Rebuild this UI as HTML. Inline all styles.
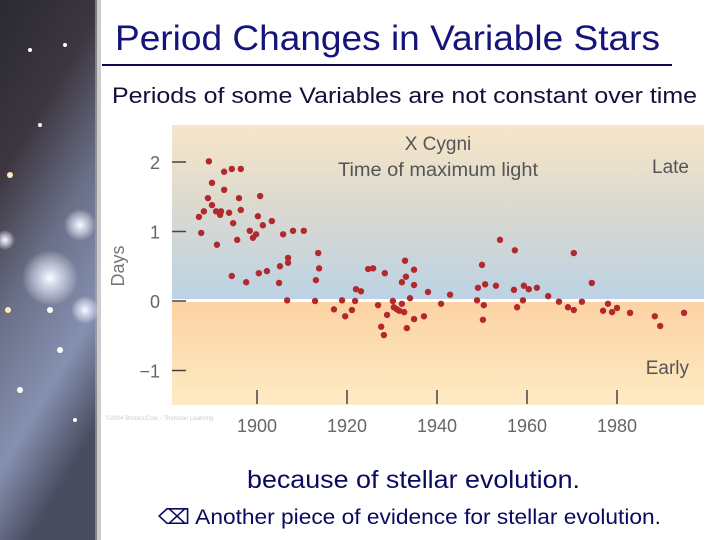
<!DOCTYPE html>
<html><head><meta charset="utf-8"><style>
html,body{margin:0;padding:0;width:720px;height:540px;overflow:hidden;background:#fff;}
svg{display:block;font-family:"Liberation Sans",sans-serif;}
</style></head><body>
<svg width="720" height="540" viewBox="0 0 720 540">
<defs>
<linearGradient id="neb" x1="0" y1="0" x2="0.3" y2="1">
<stop offset="0" stop-color="#2a2a30"/><stop offset="0.3" stop-color="#3d3640"/><stop offset="0.55" stop-color="#6a7088"/><stop offset="0.8" stop-color="#8590b0"/><stop offset="1" stop-color="#4a4c60"/>
</linearGradient>
<linearGradient id="top" x1="0" y1="0" x2="0" y2="1">
<stop offset="0" stop-color="#f7e6c8"/><stop offset="0.45" stop-color="#dcd9cf"/><stop offset="1" stop-color="#bcd2e4"/>
</linearGradient>
<linearGradient id="bot" x1="0" y1="0" x2="0" y2="1">
<stop offset="0" stop-color="#fcd2a2"/><stop offset="1" stop-color="#fdebc4"/>
</linearGradient>
<radialGradient id="glow"><stop offset="0" stop-color="#fff"/><stop offset="0.4" stop-color="#e8ecff" stop-opacity="0.7"/><stop offset="1" stop-color="#fff" stop-opacity="0"/></radialGradient>
</defs>
<g>
<rect x="0" y="0" width="97" height="540" fill="url(#neb)"/>
<rect x="95" y="0" width="6" height="540" fill="#aaa" opacity="0.6"/>
<circle cx="50" cy="278" r="28" fill="url(#glow)"/>
<circle cx="80" cy="225" r="16" fill="url(#glow)"/>
<circle cx="85" cy="310" r="14" fill="url(#glow)"/>
<circle cx="5" cy="240" r="10" fill="url(#glow)"/>
<circle cx="30" cy="50" r="2" fill="#fff"/><circle cx="65" cy="45" r="2" fill="#fff"/><circle cx="40" cy="125" r="2" fill="#fff"/>
<circle cx="10" cy="175" r="3" fill="#ffe8c0"/><circle cx="60" cy="350" r="3" fill="#fff"/><circle cx="20" cy="390" r="3" fill="#fff"/>
<circle cx="75" cy="420" r="2" fill="#fff"/><circle cx="50" cy="310" r="3" fill="#fff"/><circle cx="8" cy="310" r="3" fill="#ffe8c0"/>
</g>
<text x="115" y="50" font-size="35" fill="#14147a" textLength="545" lengthAdjust="spacingAndGlyphs">Period Changes in Variable Stars</text>
<rect x="102" y="64" width="570" height="2" fill="#0a0a50"/>
<text x="112" y="103" font-size="22" fill="#10103a" textLength="585" lengthAdjust="spacingAndGlyphs">Periods of some Variables are not constant over time</text>
<g>
<rect x="172" y="125" width="532" height="175" fill="url(#top)"/>
<rect x="172" y="300" width="532" height="105" fill="url(#bot)"/>
<rect x="172" y="299" width="532" height="3" fill="#fff"/>
<text x="438" y="150" text-anchor="middle" font-size="19" fill="#555">X Cygni</text>
<text x="438" y="176" text-anchor="middle" font-size="19" fill="#555" textLength="200" lengthAdjust="spacingAndGlyphs">Time of maximum light</text>
<text x="689" y="173" text-anchor="end" font-size="19" fill="#555">Late</text>
<text x="689" y="374" text-anchor="end" font-size="19" fill="#555">Early</text>
<text x="0" y="0" transform="translate(124,266) rotate(-90)" text-anchor="middle" font-size="18" fill="#777">Days</text>
<text x="106" y="420" font-size="6" fill="#ccc">©2004 Brooks/Cole - Thomson Learning</text>
<g id="axes"></g>
<g id="pts"></g>
</g>
<text x="247" y="488" font-size="25" fill="#0a0a60" textLength="333" lengthAdjust="spacingAndGlyphs">because of stellar evolution.</text>
<text x="158" y="524" font-size="21" fill="#0a0a60" textLength="503" lengthAdjust="spacingAndGlyphs">⌫ Another piece of evidence for stellar evolution.</text>
</svg>
<script>
const years=[1889.3,1892.7,1894.4,1896.4,1890.0,1892.7,1889.1,1896.0,1900.7,1890.0,1888.2,1890.9,1892.0,1891.8,1893.8,1896.4,1887.1,1894.7,1900.2,1903.3,1901.3,1887.6,1898.4,1899.8,1899.1,1895.6,1891.1,1905.8,1908.0,1910.4,1913.6,1906.9,1906.9,1905.1,1913.8,1894.4,1900.4,1902.2,1897.6,1904.9,1913.1,1906.7,1912.9,1924.7,1925.8,1928.4,1932.9,1933.1,1934.9,1932.2,1934.9,1938.0,1922.0,1923.1,1918.9,1921.8,1934.0,1917.1,1919.6,1921.1,1926.9,1930.2,1932.2,1930.4,1931.1,1931.6,1932.7,1928.9,1934.9,1937.1,1927.6,1928.2,1933.3,1942.9,1940.9,1954.0,1957.3,1950.0,1970.4,1949.1,1950.7,1953.1,1948.9,1950.4,1950.2,1957.1,1959.3,1960.4,1962.2,1959.1,1957.8,1964.7,1967.1,1969.1,1970.4,1972.2,1974.4,1976.9,1978.0,1978.9,1980.0,1982.9,1988.4,1989.6,1994.9];
const days=[2.01,1.86,1.90,1.90,1.70,1.60,1.48,1.48,1.51,1.38,1.29,1.29,1.29,1.24,1.27,1.31,1.21,1.12,1.22,1.15,1.09,0.98,1.01,0.96,0.91,0.88,0.81,0.96,1.01,1.01,0.69,0.62,0.55,0.50,0.47,0.36,0.40,0.43,0.27,0.26,0.30,0.01,0.00,0.46,0.47,0.40,0.58,0.35,0.45,0.27,0.23,0.13,0.17,0.14,0.01,0.00,0.04,-0.12,-0.22,-0.13,-0.06,0.00,-0.04,-0.09,-0.12,-0.14,-0.16,-0.20,-0.26,-0.22,-0.37,-0.49,-0.39,0.09,-0.04,0.88,0.73,0.52,0.69,0.19,0.24,0.22,0.01,-0.06,-0.27,0.16,0.22,0.17,0.19,0.01,-0.09,0.07,-0.01,-0.09,-0.13,-0.01,0.26,-0.14,-0.04,-0.16,-0.10,-0.17,-0.22,-0.36,-0.17];
const xTicks=[1900,1920,1940,1960,1980];
const yTicks=[2,1,0,-1];
const yTickLabels=["2","1","0","\u22121"];
const NS="http://www.w3.org/2000/svg";
function X(y){return 257+(y-1900)*4.5;}
function Y(d){return 301-d*69.5;}
function mk(tag,at,parent){const e=document.createElementNS(NS,tag);for(const k in at)e.setAttribute(k,at[k]);parent.appendChild(e);return e;}
const ax=document.getElementById('axes');
xTicks.forEach(t=>{
 const l=mk('line',{x1:X(t),x2:X(t),y1:390,y2:404,stroke:'#444','stroke-width':1.5},ax);
 
 
 const tx=mk('text',{x:X(t),y:432,'text-anchor':'middle','font-size':18,fill:'#666'},ax);
 tx.textContent=t;
 
 
});
yTicks.forEach((t,i)=>{
 const l=mk('line',{x1:172,x2:186,y1:Y(t),y2:Y(t),stroke:'#444','stroke-width':1.5},ax);
 
 
 const tx=mk('text',{x:160,y:Y(t)+7,'text-anchor':'end','font-size':18,fill:'#666'},ax);
 tx.textContent=yTickLabels[i];
 
 
});
const pg=document.getElementById('pts');
years.forEach((yr,i)=>{
 const c=mk('circle',{cx:X(yr),cy:Y(days[i]),r:3.2,fill:'#b3282c'},pg);
 
 
});
</script>
</body></html>
